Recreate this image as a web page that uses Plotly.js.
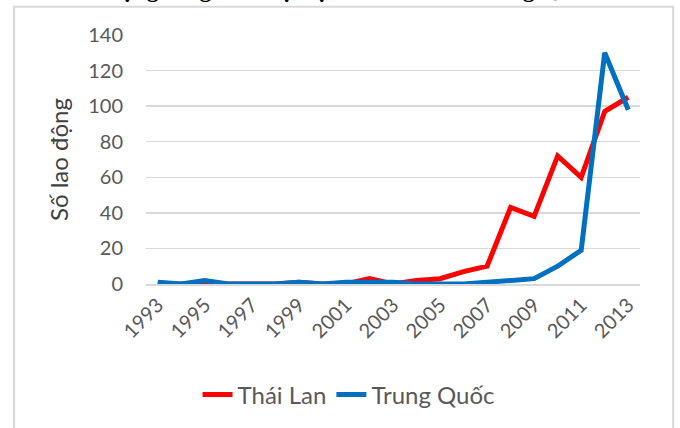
<!DOCTYPE html>
<html>
<head>
<meta charset="utf-8">
<script src="https://cdn.plot.ly/plotly-3.0.1.min.js"></script>
<style>html,body{margin:0;padding:0;background:#fff;}#chart{width:680px;height:428px;}</style>
</head>
<body>
<div id="chart"></div>
<script>
var years = ["1993","1994","1995","1996","1997","1998","1999","2000","2001","2002","2003","2004","2005","2006","2007","2008","2009","2010","2011","2012","2013"];
var thaiLan = [0,0,0,0,0,0,1,0,0,3,0,2,3,7,10,43,38,72,60,97,105];
var trungQuoc = [1,0,2,0,0,0,1,0,1,1,1,0,0,0,1,2,3,10,19,130,98];
var tickYears = ["1993","1995","1997","1999","2001","2003","2005","2007","2009","2011","2013"];
var seriesNames = ["Thái Lan","Trung Quốc"];
var yTitle = "Số lao động";
var chartTitle = "Lao động sang làm việc tại Thái Lan và Trung Quốc";

var font = "Lato, 'Open Sans', sans-serif";
var traces = [
  {x: years, y: thaiLan, name: seriesNames[0], type: "scatter", mode: "lines",
   line: {color: "#FF0000", width: 5}},
  {x: years, y: trungQuoc, name: seriesNames[1], type: "scatter", mode: "lines",
   line: {color: "#0070C0", width: 5}}
];
var layout = {
  width: 680, height: 428,
  margin: {l: 146, r: 40, t: 35, b: 143},
  paper_bgcolor: "#fff", plot_bgcolor: "#fff",
  font: {family: font, color: "#595959", size: 20},
  showlegend: true,
  legend: {orientation: "h", x: 0.41, y: -0.44, xanchor: "center", yanchor: "middle",
           font: {size: 24, color: "#595959"}, itemwidth: 30},
  xaxis: {type: "category", range: [-0.5, 20.5], tickmode: "array", tickvals: tickYears, ticktext: tickYears,
          tickangle: -45, showgrid: false, showline: true, linecolor: "#d9d9d9", linewidth: 1.5,
          ticks: "", zeroline: false, tickfont: {size: 20, color: "#595959"}, fixedrange: true},
  yaxis: {range: [0, 140], dtick: 20, showgrid: true, gridcolor: "#d9d9d9", gridwidth: 1.5,
          zeroline: false, showline: false, ticks: "", ticklabelstandoff: 22,
          tickfont: {size: 20, color: "#595959"},
          title: {text: yTitle, font: {size: 24, color: "#404040"}, standoff: 12}},
  annotations: [{text: "<b>" + chartTitle + "</b>", xref: "paper", yref: "paper", x: 0.37, y: 1,
                 xanchor: "center", yanchor: "bottom", yshift: 31, showarrow: false,
                 font: {family: "'Liberation Serif', serif", size: 24, color: "#000"}}],
  shapes: [{type: "rect", xref: "paper", yref: "paper", x0: -0.267, x1: 1.067, y0: -0.6, y1: 1.113,
            line: {color: "#d9d9d9", width: 2}, fillcolor: "rgba(0,0,0,0)", layer: "below"}]
};
Plotly.newPlot("chart", traces, layout, {displayModeBar: false, staticPlot: true});
</script>
</body>
</html>
